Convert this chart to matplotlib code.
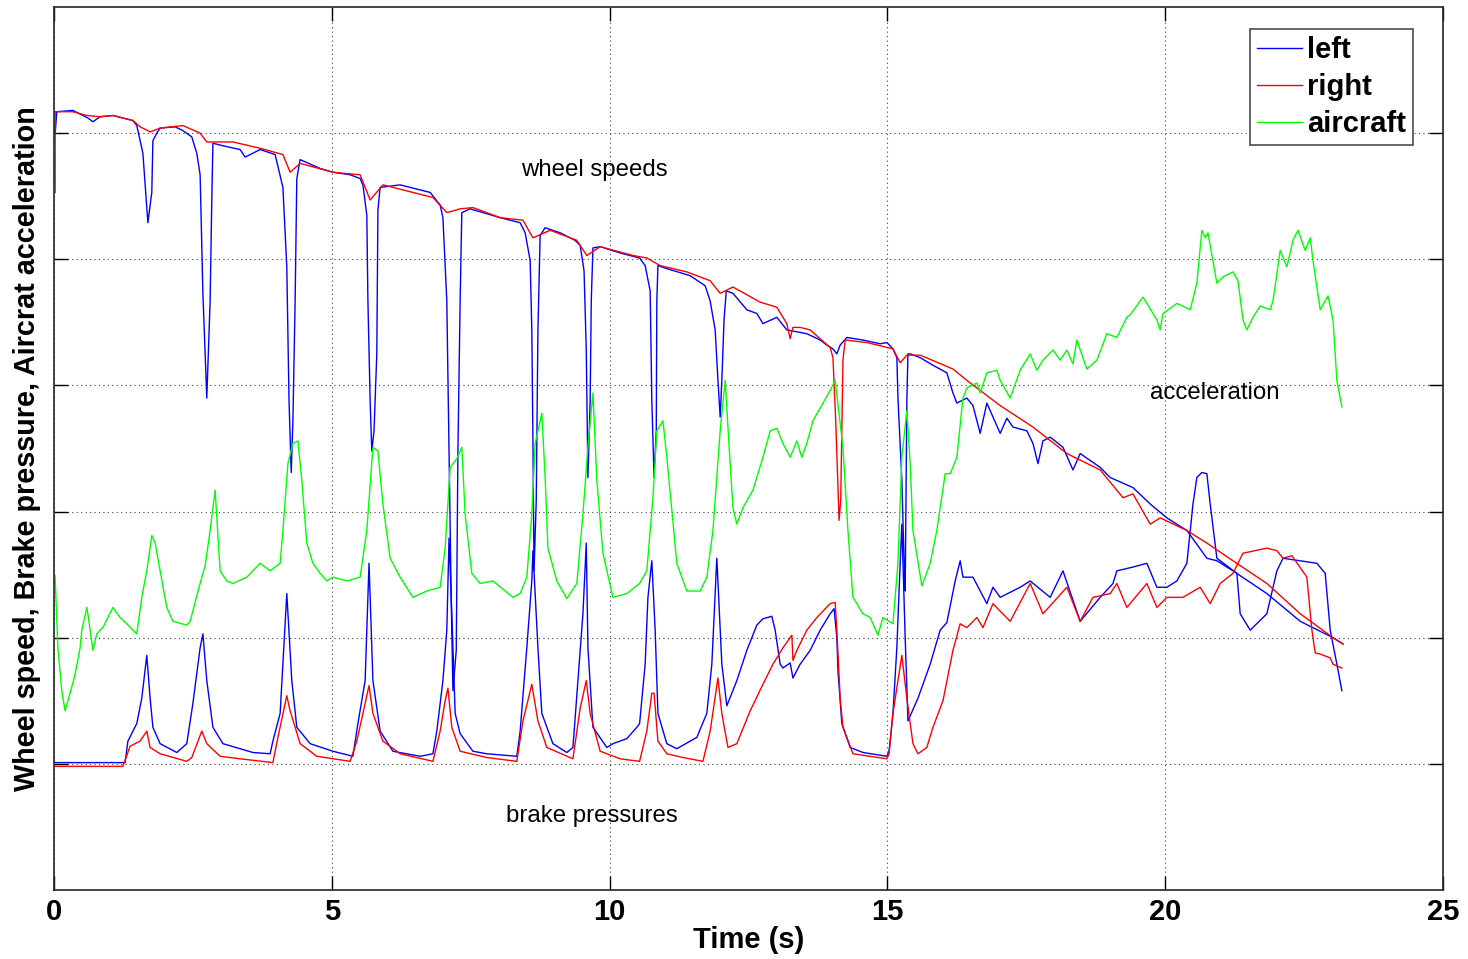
import numpy as np
import matplotlib
matplotlib.use("Agg")
import matplotlib.pyplot as plt

# ---------------- data (time s, arbitrary units) ----------------
speed_right = [(0.02,4.53),(0.02,5.17),(0.34,5.17),(0.59,5.14),(0.83,5.13),(1.06,5.14),(1.42,5.10),(1.55,5.05),
    (1.73,5.01),(1.91,5.04),(2.32,5.06),(2.63,5.00),(2.75,4.93),(3.22,4.93),(3.71,4.88),(4.12,4.83),(4.25,4.69),
    (4.43,4.76),(5.02,4.69),(5.51,4.67),(5.69,4.47),(5.92,4.59),(6.82,4.49),(7.07,4.37),(7.31,4.40),(7.54,4.41),
    (8.03,4.33),(8.44,4.31),(8.62,4.17),(8.93,4.23),(9.41,4.15),(9.59,4.03),(9.83,4.10),(10.42,4.03),(10.67,4.01),
    (10.91,3.95),(11.39,3.90),(11.81,3.83),(11.99,3.73),(12.22,3.78),(12.71,3.66),(13.01,3.62),(13.19,3.49),
    (13.25,3.37),(13.30,3.46),(13.43,3.46),(13.61,3.44),(13.97,3.30),(14.02,3.22),(14.07,2.72),(14.13,1.93),
    (14.16,2.09),(14.20,3.20),(14.24,3.36),(14.63,3.34),(15.10,3.29),(15.23,3.18),(15.35,3.24),(15.59,3.24),
    (16.18,3.13),(16.43,3.04),(17.03,2.84),(17.62,2.67),(18.23,2.46),(18.83,2.33),(19.24,2.11),(19.42,2.14),
    (19.73,1.90),(19.91,1.95),(20.39,1.85),(20.75,1.75),(21.22,1.61),(21.83,1.43),(22.43,1.19),(23.02,1.00),
    (23.20,0.95)]

speed_left = [(0.02,4.99),(0.05,5.17),(0.34,5.18),(0.61,5.12),(0.70,5.09),(0.83,5.13),(1.06,5.14),(1.42,5.10),
    (1.49,5.06),(1.60,4.84),(1.64,4.59),(1.69,4.29),(1.76,4.53),(1.78,4.94),(1.85,5.00),(1.91,5.04),(2.18,5.05),
    (2.32,5.02),(2.48,4.97),(2.57,4.84),(2.63,4.67),(2.68,3.73),(2.75,2.90),(2.81,3.67),(2.84,4.47),(2.86,4.92),
    (3.04,4.90),(3.35,4.87),(3.44,4.81),(3.71,4.87),(3.98,4.83),(4.12,4.57),(4.19,3.94),(4.23,2.88),(4.27,2.31),
    (4.30,2.72),(4.34,3.67),(4.37,4.64),(4.43,4.79),(4.79,4.72),(5.02,4.69),(5.33,4.67),(5.51,4.64),(5.56,4.59),
    (5.63,4.35),(5.65,3.67),(5.69,2.88),(5.72,2.48),(5.76,2.64),(5.81,3.25),(5.83,4.39),(5.87,4.57),(6.23,4.59),
    (6.77,4.53),(6.95,4.43),(7.00,4.33),(7.07,3.67),(7.11,2.48),(7.15,1.29),(7.18,0.58),(7.24,0.90),(7.27,2.48),
    (7.31,3.67),(7.34,4.37),(7.49,4.40),(8.03,4.33),(8.39,4.29),(8.48,4.21),(8.57,3.99),(8.60,3.44),(8.62,2.56),
    (8.64,1.53),(8.68,2.09),(8.71,3.44),(8.75,4.19),(8.84,4.25),(9.11,4.21),(9.38,4.15),(9.47,4.11),(9.54,3.91),
    (9.58,3.28),(9.61,2.27),(9.65,2.88),(9.67,3.67),(9.70,4.09),(9.83,4.10),(10.19,4.05),(10.54,4.01),(10.64,3.95),
    (10.73,3.75),(10.76,2.88),(10.80,2.27),(10.84,2.64),(10.85,3.67),(10.87,3.95),(11.00,3.93),(11.45,3.87),
    (11.72,3.79),(11.81,3.67),(11.90,3.44),(11.95,3.04),(11.99,2.75),(12.02,3.04),(12.06,3.52),(12.10,3.75),
    (12.22,3.73),(12.47,3.60),(12.65,3.57),(12.76,3.49),(13.01,3.54),(13.19,3.44),(13.55,3.41),(13.79,3.36),
    (13.91,3.32),(14.02,3.29),(14.09,3.25),(14.15,3.32),(14.27,3.38),(14.56,3.36),(14.87,3.33),(14.99,3.34),
    (15.10,3.29),(15.17,3.22),(15.19,2.90),(15.26,2.25),(15.30,1.60),(15.32,1.37),(15.35,2.88),(15.37,3.25),
    (15.41,3.25),(15.59,3.22),(15.82,3.16),(16.07,3.10),(16.18,2.94),(16.25,2.86),(16.43,2.90),(16.54,2.84),
    (16.67,2.62),(16.79,2.86),(16.90,2.75),(17.03,2.62),(17.15,2.74),(17.26,2.67),(17.51,2.64),(17.62,2.54),
    (17.71,2.38),(17.80,2.56),(17.93,2.59),(18.16,2.51),(18.34,2.33),(18.47,2.46),(18.83,2.35),(19.01,2.27),
    (19.42,2.19),(19.73,2.06),(20.03,1.95),(20.39,1.85),(20.75,1.63),(20.93,1.61),(21.22,1.53),(21.83,1.35),
    (22.43,1.13),(23.02,1.00),(23.20,0.95)]

brake_left = [(0.02,0.01),(1.28,0.01),(1.33,0.18),(1.49,0.32),(1.58,0.52),(1.67,0.86),(1.73,0.52),(1.78,0.29),
    (1.91,0.16),(2.21,0.09),(2.39,0.16),(2.50,0.48),(2.63,0.92),(2.68,1.03),(2.75,0.66),(2.86,0.29),(3.04,0.16),
    (3.58,0.09),(3.89,0.08),(3.94,0.18),(4.07,0.40),(4.12,0.79),(4.19,1.35),(4.28,0.66),(4.37,0.29),(4.61,0.16),
    (5.02,0.10),(5.38,0.06),(5.47,0.32),(5.60,0.66),(5.67,1.59),(5.74,0.66),(5.87,0.26),(6.10,0.10),(6.59,0.06),
    (6.82,0.08),(6.89,0.26),(7.00,0.66),(7.07,1.06),(7.11,1.79),(7.16,1.19),(7.22,0.40),(7.31,0.24),(7.54,0.10),
    (7.79,0.08),(8.33,0.06),(8.39,0.26),(8.51,0.92),(8.60,1.45),(8.62,1.69),(8.71,0.92),(8.78,0.40),(8.98,0.16),
    (9.23,0.09),(9.34,0.13),(9.43,0.66),(9.52,1.19),(9.58,1.75),(9.61,0.92),(9.70,0.29),(9.95,0.13),(10.06,0.16),
    (10.31,0.20),(10.49,0.29),(10.54,0.32),(10.64,0.79),(10.69,1.32),(10.76,1.61),(10.82,1.06),(10.87,0.40),
    (11.03,0.16),(11.21,0.12),(11.57,0.21),(11.75,0.40),(11.84,0.79),(11.93,1.63),(12.02,0.79),(12.11,0.46),
    (12.29,0.66),(12.47,0.90),(12.65,1.10),(12.76,1.15),(12.92,1.17),(12.98,1.06),(13.07,0.79),(13.12,0.76),
    (13.25,0.80),(13.30,0.68),(13.43,0.79),(13.61,0.90),(13.79,1.06),(13.97,1.19),(14.04,1.23),(14.09,1.00),
    (14.11,0.74),(14.18,0.32),(14.33,0.13),(14.56,0.09),(14.99,0.06),(15.03,0.10),(15.10,0.40),(15.17,0.92),
    (15.23,1.59),(15.26,1.90),(15.32,1.00),(15.37,0.34),(15.55,0.52),(15.77,0.79),(15.95,1.06),(16.07,1.12),
    (16.22,1.45),(16.31,1.61),(16.36,1.48),(16.54,1.48),(16.67,1.37),(16.79,1.27),(16.90,1.40),(17.03,1.32),
    (17.39,1.40),(17.57,1.45),(17.93,1.32),(18.16,1.53),(18.47,1.13),(18.83,1.32),(19.06,1.43),(19.13,1.53),
    (19.42,1.56),(19.67,1.59),(19.85,1.40),(20.03,1.40),(20.21,1.45),(20.39,1.59),(20.50,2.06),(20.57,2.27),
    (20.66,2.31),(20.75,2.30),(20.81,2.06),(20.93,1.63),(21.29,1.51),(21.35,1.19),(21.53,1.06),(21.83,1.19),
    (22.01,1.53),(22.12,1.63),(22.73,1.59),(22.88,1.51),(22.97,1.06),(23.09,0.79),(23.18,0.58)]

brake_right = [(0.02,-0.02),(1.24,-0.02),(1.37,0.14),(1.55,0.18),(1.67,0.26),(1.73,0.13),(1.91,0.08),(2.39,0.02),
    (2.48,0.05),(2.66,0.26),(2.75,0.16),(2.99,0.06),(3.35,0.04),(3.94,0.01),(4.03,0.21),(4.19,0.54),(4.25,0.42),
    (4.43,0.16),(4.73,0.06),(5.33,0.02),(5.45,0.18),(5.56,0.40),(5.67,0.62),(5.74,0.40),(5.92,0.18),(6.23,0.08),
    (6.82,0.02),(6.95,0.26),(7.04,0.50),(7.09,0.60),(7.16,0.29),(7.31,0.10),(7.79,0.05),(8.33,0.02),(8.44,0.34),
    (8.60,0.63),(8.71,0.34),(8.87,0.13),(9.34,0.04),(9.47,0.44),(9.58,0.66),(9.65,0.40),(9.83,0.10),(10.19,0.04),
    (10.54,0.02),(10.67,0.26),(10.76,0.56),(10.80,0.56),(10.87,0.18),(11.03,0.08),(11.32,0.05),(11.68,0.02),
    (11.81,0.26),(11.95,0.68),(12.02,0.40),(12.13,0.13),(12.29,0.16),(12.53,0.42),(12.76,0.63),(12.94,0.79),
    (13.12,0.92),(13.28,1.02),(13.30,0.82),(13.37,0.90),(13.55,1.06),(13.73,1.16),(13.97,1.27),(14.06,1.28),
    (14.09,1.06),(14.15,0.52),(14.20,0.29),(14.38,0.08),(14.99,0.04),(15.03,0.08),(15.10,0.40),(15.19,0.66),
    (15.26,0.86),(15.35,0.52),(15.46,0.16),(15.55,0.08),(15.71,0.13),(15.82,0.29),(16.00,0.50),(16.18,0.90),
    (16.31,1.11),(16.43,1.08),(16.61,1.16),(16.72,1.08),(16.90,1.27),(17.03,1.21),(17.21,1.13),(17.57,1.43),
    (17.80,1.19),(18.23,1.40),(18.47,1.13),(18.70,1.32),(19.01,1.35),(19.13,1.43),(19.31,1.24),(19.67,1.43),
    (19.85,1.24),(20.03,1.32),(20.32,1.32),(20.63,1.40),(20.81,1.27),(20.99,1.43),(21.22,1.51),(21.40,1.67),
    (21.83,1.71),(22.01,1.69),(22.12,1.63),(22.28,1.65),(22.55,1.48),(22.64,1.06),(22.70,0.88),(22.79,0.87),
    (22.97,0.84),(23.02,0.79),(23.18,0.76)]

accel = [(0.02,1.49),(0.07,0.92),(0.14,0.58),(0.20,0.42),(0.29,0.56),(0.38,0.71),(0.47,0.92),(0.50,1.06),
    (0.59,1.24),(0.61,1.19),(0.70,0.90),(0.77,1.03),(0.88,1.08),(1.06,1.24),(1.19,1.16),(1.31,1.11),(1.49,1.03),
    (1.58,1.32),(1.67,1.53),(1.76,1.81),(1.82,1.75),(1.91,1.53),(2.03,1.24),(2.14,1.13),(2.39,1.10),(2.45,1.13),
    (2.63,1.43),(2.72,1.57),(2.81,1.85),(2.90,2.17),(2.99,1.53),(3.11,1.45),(3.22,1.43),(3.47,1.48),(3.71,1.59),
    (3.89,1.53),(4.07,1.59),(4.12,1.85),(4.21,2.38),(4.30,2.54),(4.39,2.56),(4.46,2.25),(4.55,1.75),(4.66,1.59),
    (4.79,1.51),(4.91,1.45),(5.02,1.48),(5.27,1.45),(5.51,1.48),(5.63,1.85),(5.74,2.51),(5.83,2.48),(5.92,2.06),
    (6.05,1.63),(6.23,1.48),(6.46,1.32),(6.71,1.37),(6.95,1.40),(7.04,1.71),(7.13,2.35),(7.25,2.42),(7.34,2.51),
    (7.40,1.98),(7.52,1.51),(7.67,1.43),(7.90,1.45),(8.26,1.32),(8.39,1.35),(8.51,1.48),(8.60,1.98),(8.66,2.54),
    (8.78,2.78),(8.84,2.27),(8.89,1.71),(9.05,1.45),(9.23,1.31),(9.41,1.43),(9.52,1.98),(9.61,2.51),(9.70,2.94),
    (9.77,2.25),(9.88,1.67),(10.06,1.32),(10.31,1.35),(10.54,1.43),(10.67,1.53),(10.78,2.11),(10.85,2.64),
    (10.96,2.72),(11.03,2.43),(11.21,1.59),(11.39,1.37),(11.63,1.37),(11.75,1.48),(11.86,1.85),(11.99,2.64),
    (12.08,3.04),(12.17,2.38),(12.22,2.03),(12.29,1.90),(12.40,2.03),(12.58,2.17),(12.76,2.43),(12.89,2.64),
    (13.01,2.66),(13.12,2.54),(13.25,2.43),(13.37,2.56),(13.46,2.43),(13.55,2.54),(13.66,2.72),(13.84,2.86),
    (13.97,2.96),(14.06,3.04),(14.20,2.51),(14.29,1.85),(14.38,1.32),(14.56,1.19),(14.69,1.16),(14.83,1.02),
    (14.92,1.16),(15.10,1.11),(15.19,1.59),(15.26,2.43),(15.35,2.80),(15.41,2.38),(15.46,1.85),(15.62,1.41),
    (15.77,1.59),(15.89,1.85),(16.04,2.30),(16.13,2.30),(16.25,2.43),(16.36,2.90),(16.43,2.98),(16.61,3.02),
    (16.67,2.94),(16.79,3.10),(16.97,3.12),(17.03,3.04),(17.21,2.90),(17.39,3.12),(17.57,3.25),(17.69,3.12),
    (17.80,3.20),(17.98,3.28),(18.11,3.20),(18.23,3.28),(18.34,3.17),(18.41,3.36),(18.59,3.13),(18.77,3.20),
    (18.95,3.41),(19.13,3.38),(19.31,3.54),(19.37,3.56),(19.60,3.70),(19.85,3.52),(19.91,3.44),(19.96,3.57),
    (20.21,3.65),(20.45,3.60),(20.57,3.81),(20.66,4.23),(20.72,4.17),(20.77,4.21),(20.93,3.81),(21.04,3.86),
    (21.22,3.90),(21.31,3.83),(21.40,3.52),(21.47,3.44),(21.58,3.54),(21.71,3.63),(21.89,3.60),(21.94,3.67),
    (22.07,4.07),(22.19,3.94),(22.30,4.15),(22.39,4.23),(22.52,4.07),(22.61,4.17),(22.66,3.99),(22.79,3.60),
    (22.93,3.71),(23.02,3.52),(23.09,3.04),(23.18,2.83)]

legend_labels = ["left", "right", "aircraft"]
x_ticks = [0, 5, 10, 15, 20, 25]
y_grid = [0, 1, 2, 3, 4, 5]
annotations = [("wheel speeds", 9.72, 4.71), ("acceleration", 20.9, 2.94), ("brake pressures", 9.68, -0.41)]

# ---------------- plotting ----------------
plt.rcParams['font.family'] = ['Liberation Sans', 'DejaVu Sans']
BLUE, RED, GREEN = '#0000ff', '#ff0000', '#00ff00'

fig = plt.figure(figsize=(14.68, 9.59), dpi=100)
ax = fig.add_axes([54/1468, 1-890/959, (1443-54)/1468, (890-7)/959])

def xy(pairs):
    a = np.array(pairs)
    return a[:, 0], a[:, 1]

lw = 1.0
l1, = ax.plot(*xy(speed_left), color=BLUE, lw=lw)
ax.plot(*xy(brake_left), color=BLUE, lw=lw)
l2, = ax.plot(*xy(speed_right), color=RED, lw=lw)
ax.plot(*xy(brake_right), color=RED, lw=lw)
l3, = ax.plot(*xy(accel), color=GREEN, lw=lw)

ax.set_xlim(0, 25)
ax.set_ylim(-1, 6)
ax.set_xticks(x_ticks)
ax.set_yticks(y_grid)
ax.set_yticklabels([])
ax.tick_params(direction='in', length=10, width=1.0, top=True, right=True,
               labelsize=21, pad=6)
for lab in ax.get_xticklabels():
    lab.set_fontweight('bold')
ax.grid(True, color='0.25', linestyle=(0, (1, 3)), linewidth=0.8)
for s in ax.spines.values():
    s.set_linewidth(1.2)
    s.set_color('0.15')

ax.set_xlabel("Time (s)", fontsize=21, fontweight='bold', labelpad=0)
ax.set_ylabel("Wheel speed, Brake pressure, Aircrat acceleration", fontsize=20.7,
              fontweight='bold', labelpad=3)

for txt, tx, ty in annotations:
    ax.text(tx, ty, txt, fontsize=17.3, ha='center', va='center', color='black')

leg = ax.legend([l1, l2, l3], legend_labels, loc='upper right',
                bbox_to_anchor=((1413-54)/1389, (890-29)/883), borderaxespad=0,
                fancybox=False, edgecolor='0.3', framealpha=1,
                prop={'weight': 'bold', 'size': 21}, handlelength=1.55,
                handletextpad=0.15, labelspacing=0.3, borderpad=0.25)
leg.get_frame().set_linewidth(1.2)

fig.savefig("out.png", dpi=100)
